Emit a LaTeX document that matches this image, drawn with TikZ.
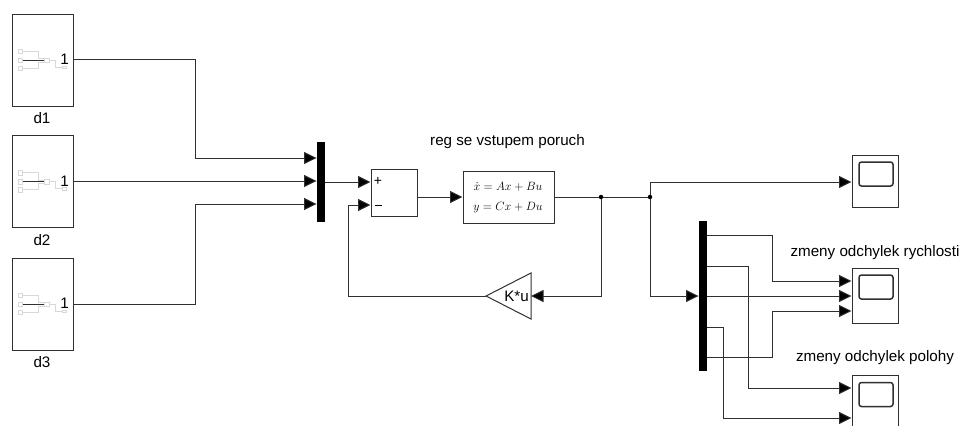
\documentclass[tikz,border=0pt]{standalone}
\usepackage{fontspec}
\setmainfont{Liberation Sans}
\usetikzlibrary{arrows.meta}
\definecolor{ln}{HTML}{303030}
\definecolor{ic}{HTML}{D8D8D8}
\tikzset{
  x=1pt,y=-1pt,
  blk/.style={draw=ln,line width=1pt,fill=white,inner sep=0pt,minimum width=#1},
  blk/.default=46pt,
  barnode/.style={fill=black,draw=none,inner sep=0pt,minimum width=8.5pt},
  wire/.style={draw=ln,line width=0.95pt},
  sig/.style={wire,-{Triangle[length=12.5pt,width=12pt,fill=black]}},
  lab/.style={font=\fontsize{15.2}{17}\selectfont,inner sep=0pt,anchor=center},
  screen/.style={draw=ln,line width=1.5pt,rounded corners=2.5pt,fill=white,inner sep=0pt,minimum width=34pt,minimum height=24pt},
  icon/.style={draw=ic,line width=0.6pt},
  dotn/.style={circle,fill=black,inner sep=0pt,minimum size=4.5pt}
}
\newcommand{\subicon}[2]{%
  \begin{scope}[shift={(#1,#2)}]
    \draw[icon] (6,35) rectangle (10.5,39.5);
    \draw[icon] (6,44) rectangle (10.5,48.5);
    \draw[icon] (6,52) rectangle (10.5,56.5);
    \draw[icon] (10.5,37) -- (26,37) -- (26,44.5) -- (32,44.5);
    \draw[icon] (10.5,54) -- (26,54) -- (26,48) -- (32,48);
    \draw[draw=ln,line width=0.7pt] (10.5,46) -- (32,46);
    \draw[icon,fill=white] (32,44) rectangle (37,48.5);
    \draw[icon] (37,46) -- (43,46) -- (43,53) -- (50,53);
    \draw[icon] (50,52) rectangle (54.5,54.5);
  \end{scope}}
\begin{document}
\begin{tikzpicture}
\useasboundingbox (0,0) rectangle (962,426);
\clip (0,0) rectangle (962,426);
% subsystems
\node[blk=61pt,minimum height=92pt] (d1) at (42.5,60) {};
\node[blk=61pt,minimum height=92pt] (d2) at (42.5,181.5) {};
\node[blk=61pt,minimum height=92pt] (d3) at (42.5,304) {};
\subicon{12}{14}\subicon{12}{135.5}\subicon{12}{258}
\node[lab] (one1) at (64.5,59.5) {1};
\node[lab] (one2) at (64.5,181) {1};
\node[lab] (one3) at (64.5,303.5) {1};
\node[lab] (t1) at (42,118.5) {d1};
\node[lab] (t2) at (42,240.5) {d2};
\node[lab] (t3) at (42,362.5) {d3};
% mux 1
\node[barnode,minimum height=80pt] (mux1) at (321,182) {};
\coordinate (m1a) at (mux1.west |- 0,158);
\coordinate (m1b) at (mux1.west |- 0,181);
\coordinate (m1c) at (mux1.west |- 0,204);
% sum
\node[blk=46pt,minimum height=47pt] (sum) at (394,192.5) {};
\coordinate (sp) at (sum.west |- 0,182);
\coordinate (sm) at (sum.west |- 0,205);
\node[font=\fontsize{14}{16}\selectfont,inner sep=0pt] (plus) at (378,181.5) {+};
\node[inner sep=0pt] (minus) at (378,205) {\rule{7pt}{1pt}};
% state space
\node[blk=91pt,minimum height=52pt] (ss) at (508.5,197) {};
\node[inner sep=0pt,font=\fontsize{12.5}{14}\selectfont] (eq1) at (508,187) {$\dot{x} = Ax + Bu$};
\node[inner sep=0pt,font=\fontsize{12.5}{14}\selectfont] (eq2) at (508,208) {$y = Cx + Du$};
\node[lab] (sst) at (507.5,141.5) {reg se vstupem poruch};
% gain
\coordinate (gt) at (486,296);
\coordinate (gu) at (531,273);
\coordinate (gd) at (531,319);
\draw[ln,line width=1pt,fill=white] (gt) -- (gu) -- (gd) -- cycle;
\coordinate (gr) at (531,296);
\node[lab] (gain) at (516.5,296) {K*u};
% junctions
\node[dotn] (j1) at (601,197) {};
\node[dotn] (j2) at (650,197) {};
% scopes
\node[blk=46pt,minimum height=52pt] (sc1) at (875,181) {};
\node[screen] (sc1s) at (876,174) {};
\node[blk=46pt,minimum height=55pt] (sc2) at (875,295.5) {};
\node[screen] (sc2s) at (876,287) {};
\node[blk=46pt,minimum height=56pt] (sc3) at (875,403) {};
\node[screen] (sc3s) at (876,394.5) {};
\node[lab] (tsc2) at (875,253) {zmeny odchylek rychlosti};
\node[lab] (tsc3) at (875,358) {zmeny odchylek polohy};
% mux 2
\node[barnode,minimum height=150pt] (mux2) at (703,296) {};
% wires
\draw[sig] (d1.east |- 0,59) -| (195,158) -- (m1a);
\draw[sig] (d2.east |- 0,181) -- (m1b);
\draw[sig] (d3.east |- 0,304) -| (195,204) -- (m1c);
\draw[sig] (mux1.east |- 0,182) -- (sp);
\draw[sig] (sum.east |- 0,197) -- (ss.west);
\draw[wire] (ss.east) -- (j1) -- (j2);
\draw[sig] (j1) |- (gr);
\draw[sig] (gt) -| (348,205) -- (sm);
\draw[sig] (j2) |- (sc1.west |- 0,182);
\draw[sig] (j2) |- (mux2.west |- 0,296);
\draw[sig] (mux2.east |- 0,235) -| (772,281) -- (sc2.west |- 0,281);
\draw[sig] (mux2.east |- 0,296) -- (sc2.west |- 0,296);
\draw[sig] (mux2.east |- 0,357) -| (772,311) -- (sc2.west |- 0,311);
\draw[sig] (mux2.east |- 0,266) -| (748,388) -- (sc3.west |- 0,388);
\draw[sig] (mux2.east |- 0,327) -| (723,418) -- (sc3.west |- 0,418);
\end{tikzpicture}
\end{document}
